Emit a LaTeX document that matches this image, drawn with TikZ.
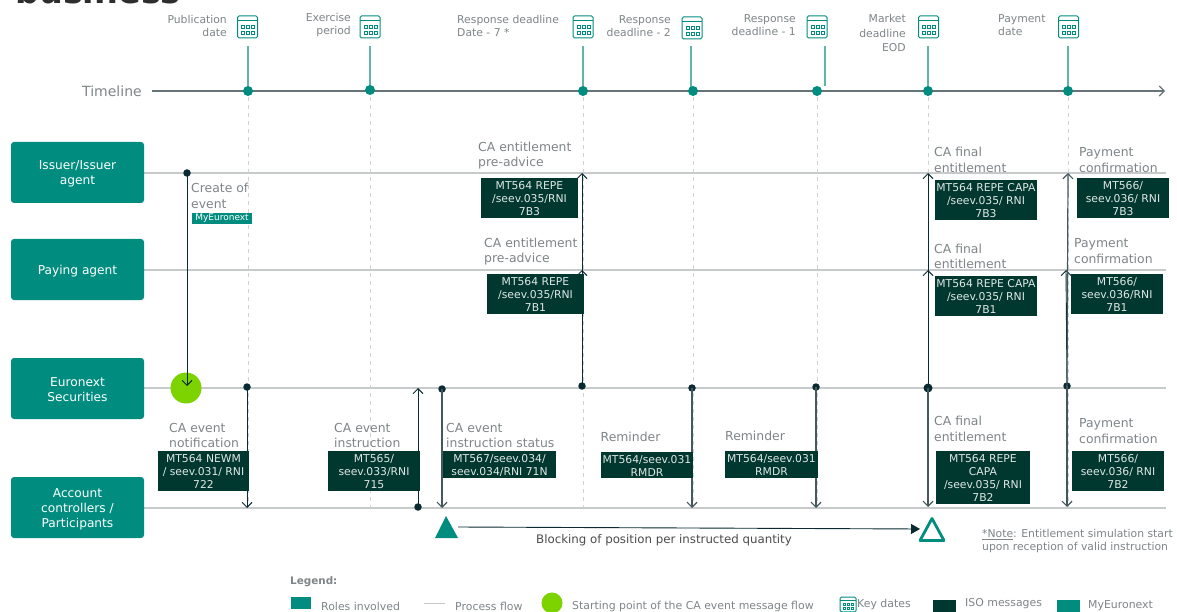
\documentclass[tikz,border=0pt]{standalone}
\usepackage{fontspec}
\setmainfont{DejaVu Sans}
\usetikzlibrary{arrows.meta}
\definecolor{teal}{HTML}{008D7F}
\definecolor{lteal}{HTML}{5FB5AC}
\definecolor{darkm}{HTML}{00382F}
\definecolor{inkd}{HTML}{0A2A32}
\definecolor{txt}{HTML}{7F8588}
\definecolor{rail}{HTML}{C6CACA}
\definecolor{dashg}{HTML}{CFD2D2}
\definecolor{limeg}{HTML}{7CD300}
\newcommand{\fs}[2]{\fontsize{#1}{#2}\selectfont}
\tikzset{
  x=1pt,y=-1pt,
  rolebox/.style={fill=teal,rounded corners=3pt,text=white,align=center,inner sep=0pt,font=\fs{12.2}{15},minimum width=133pt,minimum height=61pt},
  msgbox/.style={fill=darkm,text=white!88!darkm,align=center,inner sep=0pt,font=\fs{10.8}{13}},
  lbl/.style={text=txt,align=left,anchor=west,inner sep=0pt,font=\fs{12.4}{15.5}},
  toplbl/.style={text=txt,inner sep=0pt,font=\fs{10.8}{13}},
  leg/.style={text=txt,inner sep=0pt,anchor=west,font=\fs{10.9}{12}},
  keyline/.style={lteal,line width=1.1pt},
  railline/.style={rail,line width=1.2pt},
  dashline/.style={dashg,line width=.9pt,dash pattern=on 4pt off 4pt},
  flow/.style={inkd,line width=.9pt,-{Straight Barb[length=5pt,width=10pt]}},
  dotk/.style={circle,fill=inkd,inner sep=0pt,minimum size=7.5pt},
  dott/.style={circle,fill=teal,inner sep=0pt,minimum size=10pt},
}
% message box from two corners
\newcommand{\msg}[6]{%
  \pgfmathsetmacro{\mw}{#4-#2}\pgfmathsetmacro{\mh}{#5-#3}%
  \pgfmathsetmacro{\mx}{(#4+#2)/2}\pgfmathsetmacro{\my}{(#5+#3)/2+.7}%
  \fill[darkm] (#2,#3) rectangle (#4,#5);
  \node[msgbox,fill=none,minimum width=\mw pt,minimum height=\mh pt] (#1) at (\mx,\my) {#6};}
% calendar icon: left, top, x scale, y scale
\newcommand{\calicon}[4]{%
  \begin{scope}[shift={(#1,#2)},xscale=#3,yscale=#4]
    \draw[teal,line width=1pt,rounded corners=1.5pt] (0,0) rectangle (20,22);
    \draw[teal,line width=1pt] (0,5) -- (20,5);
    \foreach \cx in {4,9,14}{\foreach \cy in {9,15}{%
      \draw[teal,line width=.8pt] (\cx,\cy) rectangle ++(3,3);}}
  \end{scope}}
\begin{document}
\begin{tikzpicture}
\useasboundingbox (0,0) rectangle (1177,612);
\clip (0,0) rectangle (1177,612);
\fill[white] (0,0) rectangle (1177,612);
% cropped title
\node[anchor=base west,inner sep=0pt,text=black!82,font=\fs{33.5}{36}\bfseries] (title) at (15,4) {business};

% rails
\coordinate (r1a) at (144,173); \coordinate (r1b) at (1166,173);
\coordinate (r2a) at (144,270); \coordinate (r2b) at (1166,270);
\coordinate (r3a) at (144,388); \coordinate (r3b) at (1166,388);
\coordinate (r4a) at (144,508); \coordinate (r4b) at (1166,508);
\foreach \i in {1,2,3,4}{\draw[railline] (r\i a) -- (r\i b);}

% timeline dots and key dates
\foreach \n/\x/\ke in {a/248/91,b/370/90,c/583/91,d/693/91,e/817/91,f/928/91,g/1068/91}{
  \coordinate (dashtop\n) at (\x,97);
  \coordinate (dashbot\n) at (\x,508);
  \draw[dashline] (dashtop\n) -- (dashbot\n);
}
\coordinate (tlstart) at (152,91); \coordinate (tlend) at (1165,91);
\draw[line width=1.1pt,color=txt!80!inkd,-{Straight Barb[length=5pt,width=10pt]}] (tlstart) -- (tlend);
\foreach \n/\x/\kx/\kt/\kb in {a/248/248/46/91,b/370/370/46/90,c/583/583/46/91,d/693/691/46/91,e/817/825/46/86,f/928/928/46/91,g/1068/1068/46/91}{
  \coordinate (kt\n) at (\kx,\kt); \coordinate (kb\n) at (\kx,\kb);
  \draw[keyline] (kt\n) -- (kb\n);
}
\foreach \n/\x in {a/248,c/583,d/693,e/817,f/928,g/1068}{\node[dott] (t\n) at (\x,91) {};}
\node[dott] (tb) at (370,90) {};

\node[text=txt,inner sep=0pt,anchor=west,font=\fs{14}{16}] (tl) at (82,91) {Timeline};

% top labels
\node[toplbl,align=right,anchor=east] (k1) at (227,25.5) {Publication\\date};
\node[toplbl,align=right,anchor=east] (k2) at (351,25.5) {Exercise\\period};
\node[toplbl,align=left,anchor=west] (k3) at (457,25.5) {Response deadline\\Date - 7 *};
\node[toplbl,align=right,anchor=east] (k4) at (671,26.5) {Response\\deadline - 2};
\node[toplbl,align=right,anchor=east] (k5) at (796,25.5) {Response\\deadline - 1};
\node[toplbl,align=right,anchor=east,font=\fs{10.8}{14.3}] (k6) at (906,33) {Market\\deadline\\EOD};
\node[toplbl,align=left,anchor=west] (k7) at (998,25.5) {Payment\\date};
\calicon{237.5}{16}{1}{1}\calicon{360}{16}{1}{1}\calicon{573}{16}{1}{1}\calicon{682}{17}{1}{1}\calicon{807}{16}{1}{1}\calicon{918.5}{16}{1}{1}\calicon{1058.5}{16}{1}{1}

% roles
\fill[teal,rounded corners=3pt] (11,142) rectangle (144,203);
\fill[teal,rounded corners=3pt] (11,239) rectangle (144,300);
\fill[teal,rounded corners=3pt] (11,358) rectangle (144,419);
\fill[teal,rounded corners=3pt] (11,477) rectangle (144,538);
\node[rolebox,fill=none] (issuer) at (77.5,174) {Issuer/Issuer\\agent};
\node[rolebox,fill=none] (paying) at (77.5,271.5) {Paying agent};
\node[rolebox,fill=none] (euro) at (77.5,389.5) {Euronext\\Securities};
\node[rolebox,fill=none] (acct) at (77.5,509.5) {Account\\controllers /\\Participants};

% green start
\node[circle,fill=limeg,inner sep=0pt,minimum size=31pt] (start) at (186,388) {};

% dots
\node[dotk] (dcreate) at (187,173) {};
\node[dotk] (dnotif) at (247,387) {};
\node[dotk] (dinstr) at (418,507) {};
\node[dotk] (dstat) at (442,389) {};
\node[dotk] (dadv) at (582,386) {};
\node[dotk] (drem1) at (692,388) {};
\node[dotk] (drem2) at (816,387) {};
\node[dotk,minimum height=9pt] (dfin) at (928,388) {};
\node[dotk] (dpay) at (1067,386) {};

% free ends
\coordinate (ecreate) at (187,386);
\coordinate (enotif) at (247,508);
\coordinate (einstr) at (418,388);
\coordinate (estat) at (442,508);
\coordinate (eadv2) at (582,270);
\coordinate (eadv1) at (582,173);
\coordinate (erem1) at (692,508);
\coordinate (erem2) at (816,508);
\coordinate (efin2) at (928,270);
\coordinate (efin1) at (928,173);
\coordinate (efin3) at (928,507);
\coordinate (epay2) at (1066,270);
\coordinate (epay1) at (1068,173);
\coordinate (epay3) at (1067,507);

\draw[flow] (dcreate.center) -- (ecreate);
\draw[flow] (dnotif.center) -- (enotif);
\draw[flow] (dinstr.center) -- (einstr);
\draw[flow,color=txt!50!inkd,line width=1.2pt] (dstat.center) -- (estat);
\draw[flow] (dadv.center) -- (eadv2);
\draw[flow] (dadv.center) -- (eadv1);
\draw[flow,color=txt!50!inkd,line width=1.2pt] (drem1.center) -- (erem1);
\draw[flow,color=txt!50!inkd,line width=1.2pt] (drem2.center) -- (erem2);
\draw[flow] (dfin.center) -- (efin2);
\draw[flow] (dfin.center) -- (efin1);
\draw[flow,color=txt!50!inkd,line width=1.2pt] (dfin.center) -- (efin3);
\draw[flow] (dpay.center) -- (epay2);
\draw[flow,color=txt!50!inkd,line width=1.2pt] (dpay.center) -- (epay1);
\draw[flow,color=txt!50!inkd,line width=1.2pt] (dpay.center) -- (epay3);

% labels
\node[lbl] (lcreate) at (191,196) {Create of\\event};
\node[fill=teal,text=white,inner sep=0pt,minimum width=60pt,minimum height=11pt,font=\fs{9}{9}] (lmy) at (222,218.5) {MyEuronext};
\node[lbl] (l1) at (478,155.5) {CA entitlement\\pre-advice};
\node[lbl] (l2) at (484,251.5) {CA entitlement\\pre-advice};
\node[lbl] (l3) at (934,160) {CA final\\entitlement};
\node[lbl] (l4) at (934,256.5) {CA final\\entitlement};
\node[lbl] (l5) at (1079,160) {Payment\\confirmation};
\node[lbl] (l6) at (1074,251) {Payment\\confirmation};
\node[lbl] (l7) at (169,435.5) {CA event\\notification};
\node[lbl] (l8) at (334,435.5) {CA event\\instruction};
\node[lbl] (l9) at (446,435.5) {CA event\\instruction status};
\node[lbl] (l10) at (600.5,437) {Reminder};
\node[lbl] (l11) at (725,436) {Reminder};
\node[lbl] (l12) at (934,429) {CA final\\entitlement};
\node[lbl] (l13) at (1079,431) {Payment\\confirmation};

% ISO message boxes
\msg{m1}{481}{178}{578}{218}{MT564 REPE\\/seev.035/RNI\\7B3}
\msg{m2}{487}{274}{584}{314}{MT564 REPE\\/seev.035/RNI\\7B1}
\msg{m3}{935}{180}{1037}{220}{MT564 REPE CAPA\\/seev.035/ RNI\\7B3}
\msg{m4}{935}{276}{1037}{316}{MT564 REPE CAPA\\/seev.035/ RNI\\7B1}
\msg{m5}{1077}{178}{1169}{218}{MT566/\\seev.036/ RNI\\7B3}
\msg{m6}{1071}{274}{1163}{314}{MT566/\\seev.036/RNI\\7B1}
\msg{m7}{158}{451}{249}{491}{MT564 NEWM\\/ seev.031/ RNI\\722}
\msg{m8}{328}{451}{420}{491}{MT565/\\seev.033/RNI\\715}
\msg{m9}{443}{451}{556}{478}{MT567/seev.034/\\seev.034/RNI 71N}
\msg{m10}{601}{452}{693}{478}{MT564/seev.031\\RMDR}
\msg{m11}{725}{451}{818}{478}{MT564/seev.031\\RMDR}
\msg{m12}{936}{451}{1030}{504}{MT564 REPE\\CAPA\\/seev.035/ RNI\\7B2}
\msg{m13}{1072}{451}{1164}{491}{MT566/\\seev.036/ RNI\\7B2}

% blocking
\coordinate (bs) at (458,527); \coordinate (be) at (920,529);
\draw[inkd,line width=.9pt,-{Triangle[length=9pt,width=10pt]}] (bs) -- (be);
\fill[teal] (446,516) -- (458,538) -- (435,538) -- cycle;
\draw[teal,line width=2.8pt,line join=round] (932,518.5) -- (944,540.5) -- (920,540.5) -- cycle;
\node[inner sep=0pt,text=black!70,font=\fs{11.8}{14}] (block) at (664,540) {Blocking of position per instructed quantity};

% note
\node[inner sep=0pt,anchor=west,align=left,text=txt,font=\fs{10.8}{13}] (note) at (982,541.5) {\underline{*Note}: Entitlement simulation start\\upon reception of valid instruction};

% legend
\node[leg,font=\fs{10.4}{12}\bfseries] (lgt) at (290,582) {Legend:};
\fill[teal] (291,597) rectangle (311,609);
\node[leg] (lg1) at (321,606) {Roles involved};
\coordinate (pfa) at (424,603); \coordinate (pfb) at (445,603);
\draw[rail,line width=1pt] (pfa) -- (pfb);
\node[leg] (lg2) at (455,606) {Process flow};
\node[circle,fill=limeg,inner sep=0pt,minimum size=21pt] (lgc) at (552,603) {};
\node[leg] (lg3) at (572,606) {Starting point of the CA event message flow};
\calicon{840}{597}{.8}{.68}
\node[leg] (lg4) at (857,604.5) {Key dates};
\fill[darkm] (933,600) rectangle (956,612);
\node[leg] (lg5) at (965,604) {ISO messages};
\fill[teal] (1057,600) rectangle (1080,612);
\node[leg] (lg6) at (1088,606) {MyEuronext};
\end{tikzpicture}
\end{document}
